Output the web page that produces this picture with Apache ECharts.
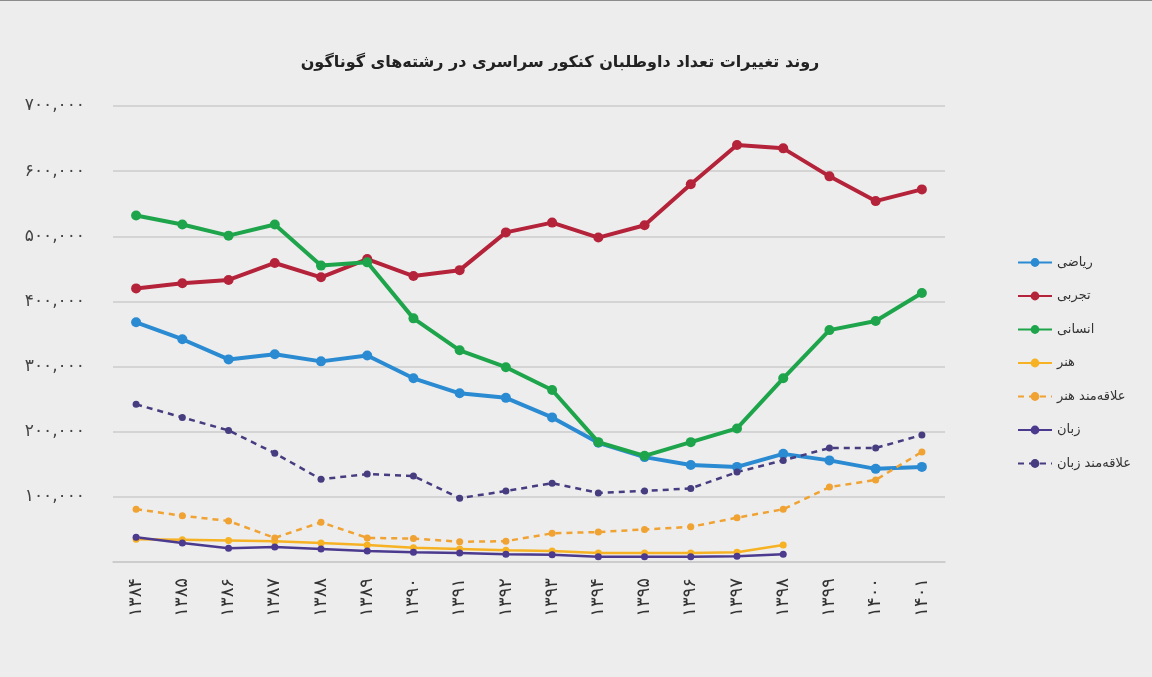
<!DOCTYPE html>
<html><head><meta charset="utf-8">
<script src="https://cdn.jsdelivr.net/npm/echarts@6/dist/echarts.min.js"></script>
<style>html,body{margin:0;padding:0;background:#ededed;}#c{width:1152px;height:677px;border-top:1px solid #8c8c8c;box-sizing:border-box;}</style>
</head><body><div id="c"></div>
<script>
const title = 'روند تغییرات تعداد داوطلبان کنکور سراسری در رشته‌های گوناگون';
const categories = ['۱۳۸۴','۱۳۸۵','۱۳۸۶','۱۳۸۷','۱۳۸۸','۱۳۸۹','۱۳۹۰','۱۳۹۱','۱۳۹۲','۱۳۹۳','۱۳۹۴','۱۳۹۵','۱۳۹۶','۱۳۹۷','۱۳۹۸','۱۳۹۹','۱۴۰۰','۱۴۰۱'];
const yTickValues = [0,100000,200000,300000,400000,500000,600000,700000];
const yTickLabels = ['','۱۰۰,۰۰۰','۲۰۰,۰۰۰','۳۰۰,۰۰۰','۴۰۰,۰۰۰','۵۰۰,۰۰۰','۶۰۰,۰۰۰','۷۰۰,۰۰۰'];
const seriesNames = ['ریاضی','تجربی','انسانی','هنر','علاقه‌مند هنر','زبان','علاقه‌مند زبان'];
const riazi = [368000,342000,311000,319000,308000,317000,282000,259000,252000,222000,183000,161000,149000,146000,166000,156000,143000,146000];
const tajrobi = [420000,428000,433000,459000,437000,465000,439000,448000,506000,521000,498000,517000,580000,640000,635000,592000,554000,572000];
const ensani = [532000,518000,501000,518000,455000,460000,374000,325000,299000,264000,184000,163000,184000,205000,282000,356000,370000,413000];
const honar = [35000,34000,33000,32000,29000,26000,22000,20000,18000,17000,14000,14000,14000,15000,26000,null,null,null];
const alaqeHonar = [81000,71000,63000,37000,61000,37000,36000,31000,32000,44000,46000,50000,54000,68000,81000,115000,126000,169000];
const zaban = [38000,29000,21000,23000,20000,17000,15000,14000,12000,11000,8000,8000,8000,9000,12000,null,null,null];
const alaqeZaban = [242000,222000,202000,167000,127000,135000,132000,98000,109000,121000,106000,109000,113000,138000,156000,175000,175000,195000];

const colors = ['#2b8bd2','#b4233a','#1ea54b','#f6b223','#f0a232','#4b3a8e','#463c80'];
const dataList = [riazi,tajrobi,ensani,honar,alaqeHonar,zaban,alaqeZaban];
const styles = [
  {w:4,s:10,dash:'solid'},{w:4,s:10,dash:'solid'},{w:4,s:10,dash:'solid'},
  {w:2.5,s:7,dash:'solid'},{w:2.5,s:7,dash:[6,5]},{w:2.5,s:7,dash:'solid'},{w:2.5,s:7,dash:[6,5]}
];
const font = '"DejaVu Sans", "Noto Sans", sans-serif';
const chart = echarts.init(document.getElementById('c'));
chart.setOption({
  backgroundColor:'#ededed',
  animation:false,
  title:{text:title,left:555,textAlign:'center',top:49,textStyle:{fontFamily:font,fontSize:16,fontWeight:'bold',color:'#222'}},
  grid:{left:113,right:207,top:105,bottom:115},
  legend:{orient:'vertical',left:1012,top:250,itemGap:20.5,itemWidth:34,itemHeight:11,
    textStyle:{fontFamily:font,fontSize:13,color:'#333'},data:seriesNames},
  xAxis:{type:'category',data:categories,boundaryGap:true,
    axisLine:{show:true,lineStyle:{color:'#c9c9c9',width:1.5}},axisTick:{show:false},
    axisLabel:{rotate:90,fontFamily:font,fontSize:18,color:'#333',margin:16}},
  yAxis:{type:'value',min:0,max:700000,interval:100000,
    axisLine:{show:false},axisTick:{show:false},
    splitLine:{lineStyle:{color:'#cbcbcb',width:1.5}},
    axisLabel:{fontFamily:font,fontSize:17,color:'#444',margin:28,
      formatter:function(v){const i=yTickValues.indexOf(v);return i>=0?yTickLabels[i]:'';}}},
  series:seriesNames.map(function(n,i){return {
    name:n,type:'line',data:dataList[i],symbol:'circle',symbolSize:styles[i].s,
    connectNulls:false,
    itemStyle:{color:colors[i]},
    lineStyle:{color:colors[i],width:styles[i].w,type:styles[i].dash}
  };})
});
</script></body></html>
